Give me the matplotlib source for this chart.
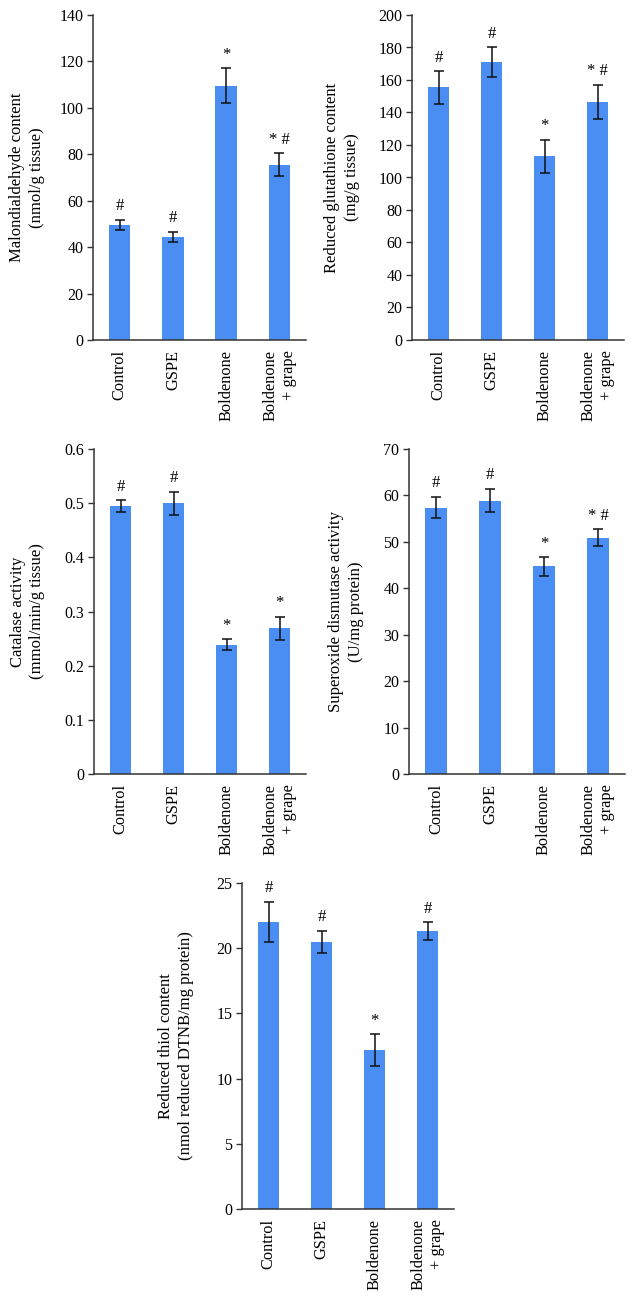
import numpy as np
import matplotlib as mpl
mpl.use('agg')
import matplotlib.pyplot as plt

plt.rcParams['font.family'] = ['Liberation Serif', 'DejaVu Serif']

groups = ['Control', 'GSPE', 'Boldenone', 'Boldenone\n+ grape']

mda = [49.5, 44.5, 109.5, 75.5]
mda_err = [2.3, 2.2, 7.5, 5.0]
mda_sig = ['#', '#', '*', '*#']

gsh = [155.5, 171.0, 113.0, 146.7]
gsh_err = [10.0, 9.0, 10.3, 10.5]
gsh_sig = ['#', '#', '*', '*#']

cat = [0.494, 0.500, 0.239, 0.269]
cat_err = [0.011, 0.021, 0.010, 0.021]
cat_sig = ['#', '#', '*', '*']

sod = [57.4, 58.9, 44.7, 50.9]
sod_err = [2.3, 2.5, 2.0, 1.8]
sod_sig = ['#', '#', '*', '*#']

thiol = [22.0, 20.5, 12.2, 21.3]
thiol_err = [1.55, 0.85, 1.2, 0.7]
thiol_sig = ['#', '#', '*', '#']

panels = [
    (mda, mda_err, mda_sig, 'Malondialdehyde content\n(nmol/g tissue)', (0, 140), 20, '%d'),
    (gsh, gsh_err, gsh_sig, 'Reduced glutathione content\n(mg/g tissue)', (0, 200), 20, '%d'),
    (cat, cat_err, cat_sig, 'Catalase activity\n(mmol/min/g tissue)', (0, 0.6), 0.1, None),
    (sod, sod_err, sod_sig, 'Superoxide dismutase activity\n(U/mg protein)', (0, 70), 10, '%d'),
    (thiol, thiol_err, thiol_sig, 'Reduced thiol content\n(nmol reduced DTNB/mg protein)', (0, 25), 5, '%d'),
]

W, H = 635, 1298
# axes boxes in pixels: left, top, right, bottom
boxes = [(93, 15, 306, 340), (412, 15, 624, 340),
         (94, 449, 306, 774), (409, 449, 625, 774),
         (242, 883, 454, 1209)]
label_x = [-0.225, -0.245, -0.23, -0.21, -0.226]

fig = plt.figure(figsize=(W / 100, H / 100), dpi=100)
bar_color = '#4a8ef4'
x = np.arange(len(groups))

for (vals, errs, sig, ylab, ylim, step, fmt), (l, t, r, b), lx in zip(panels, boxes, label_x):
    ax = fig.add_axes([l / W, 1 - b / H, (r - l) / W, (b - t) / H])
    ax.bar(x, vals, width=0.4, color=bar_color, zorder=2)
    ax.errorbar(x, vals, yerr=errs, fmt='none', ecolor='#111111',
                elinewidth=1.1, capsize=3.5, capthick=1.1, zorder=3)
    for xi, v, e, s in zip(x, vals, errs, sig):
        ax.annotate(s.replace('*#', '* #'), (xi, v + e), xytext=(0, 4),
                    textcoords='offset points', ha='center', va='bottom',
                    fontsize=12)
    ax.set_xlim(-0.5, 3.5)
    ax.set_ylim(*ylim)
    ticks = np.arange(ylim[0], ylim[1] + step / 2, step)
    ax.set_yticks(ticks)
    if fmt is None:
        ax.set_yticklabels(['0'] + ['%.1f' % v for v in ticks[1:]])
    else:
        ax.set_yticklabels([fmt % v for v in ticks])
    ax.set_xticks(x)
    ax.set_xticklabels(groups, rotation=90, va='top', ha='center',
                       fontsize=11.8, linespacing=1.2, multialignment='right')
    ax.tick_params(axis='x', length=0, pad=7)
    ax.tick_params(axis='y', length=4, width=1, labelsize=11.5, pad=3,
                   color='#333333')
    ax.set_ylabel(ylab, fontsize=12, linespacing=1.3)
    ax.yaxis.set_label_coords(lx, 0.5)
    for sp in ['top', 'right']:
        ax.spines[sp].set_visible(False)
    for sp in ['left', 'bottom']:
        ax.spines[sp].set_linewidth(1.1)
        ax.spines[sp].set_color('#333333')

fig.savefig('out.png', dpi=100, facecolor='white')
